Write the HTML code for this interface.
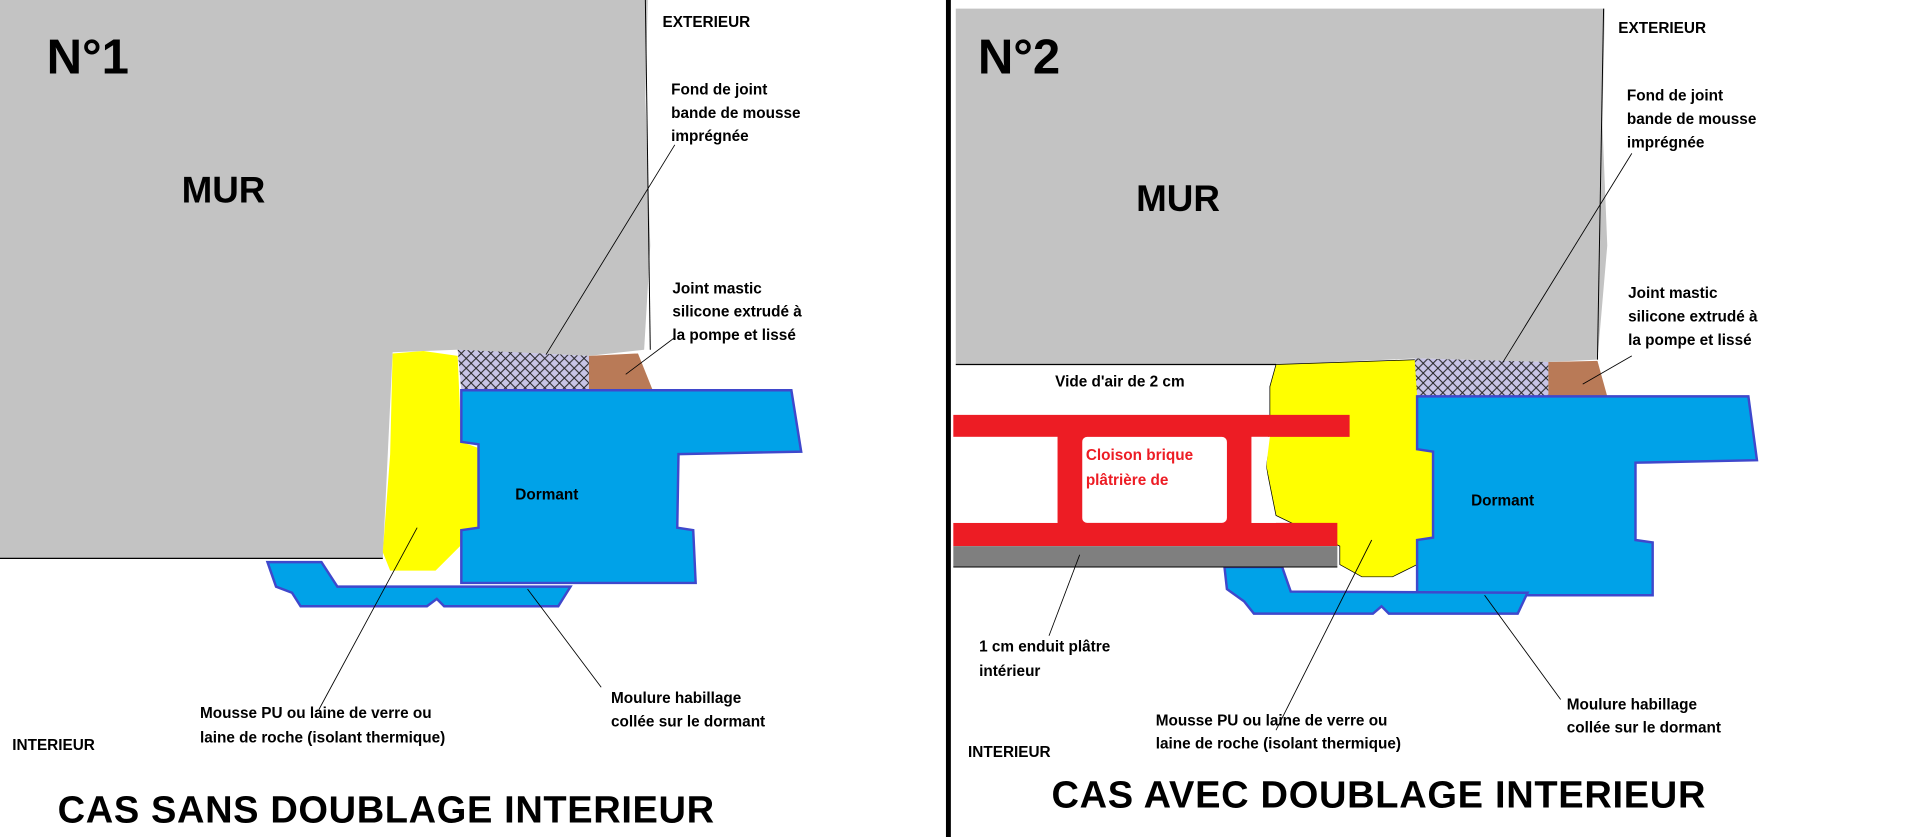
<!DOCTYPE html>
<html><head><meta charset="utf-8"><style>
html,body{margin:0;padding:0;background:#fff;width:1914px;height:837px;overflow:hidden}
svg{display:block}
text{font-family:"Liberation Sans",sans-serif;font-weight:bold;fill:#000}
.s{font-size:12.5px}
</style></head><body>
<svg width="1914" height="837" viewBox="0 0 1560 682" preserveAspectRatio="none">
<defs>
<pattern id="h" width="8" height="8" patternUnits="userSpaceOnUse">
<rect width="8" height="8" fill="#c8c4e6"/>
<path d="M0 0L8 8M8 0L0 8" stroke="#222" stroke-width="0.8"/>
</pattern>
</defs>
<rect width="1560" height="682" fill="#fff"/>
<!-- LEFT -->
<polygon points="0,0 528,0 526,80 530,200 525,285 480,290 372,285 320,287 312,455 0,455" fill="#c3c3c3"/>
<line x1="0" y1="455" x2="312" y2="455" stroke="#000" stroke-width="1"/>
<line x1="526" y1="0" x2="530" y2="285" stroke="#000" stroke-width="0.8"/>
<polygon points="320,288 345,286 373,290 376,360 390,365 390,430 376,432 375,445 355,465 318,465 312,450 318,370" fill="#ffff00"/>
<polygon points="373,285 420,287 480,290 480,318 376,318" fill="url(#h)"/>
<polygon points="480,290 520,288 532,318 480,318" fill="#b97a57"/>
<polygon points="376,318 645,318 653,368 553,370 552,430 565,432 567,475 376,475 376,432 390,430 390,362 376,360" fill="#00a2e8" stroke="#3f48cc" stroke-width="2"/>
<polygon points="218,458 262,458 275,478 465,478 455,494 362,494 356,488 348,494 245,494 238,483 225,478" fill="#00a2e8" stroke="#3f48cc" stroke-width="2"/>
<g stroke="#000" stroke-width="0.7" fill="none">
<line x1="550" y1="118" x2="445" y2="289"/>
<line x1="550" y1="275" x2="510" y2="305"/>
<line x1="260" y1="578" x2="340" y2="430"/>
<line x1="490" y1="560" x2="430" y2="480"/>
</g>
<text x="38" y="60" font-size="40">N°1</text>
<text x="148" y="165" font-size="30">MUR</text>
<text x="540" y="22" class="s">EXTERIEUR</text>
<text x="547" y="77" class="s">Fond de joint</text>
<text x="547" y="96" class="s">bande de mousse</text>
<text x="547" y="115" class="s">imprégnée</text>
<text x="548" y="239" class="s">Joint mastic</text>
<text x="548" y="258" class="s">silicone extrudé à</text>
<text x="548" y="277" class="s">la pompe et lissé</text>
<text x="420" y="407" class="s">Dormant</text>
<text x="163" y="585" class="s">Mousse PU ou laine de verre ou</text>
<text x="163" y="605" class="s">laine de roche (isolant thermique)</text>
<text x="498" y="573" class="s">Moulure habillage</text>
<text x="498" y="592" class="s">collée sur le dormant</text>
<text x="10" y="611" class="s">INTERIEUR</text>
<text x="47" y="670" font-size="31" textLength="535">CAS SANS DOUBLAGE INTERIEUR</text>
<!-- divider -->
<rect x="771" y="0" width="4" height="682" fill="#000"/>
<!-- RIGHT -->
<polygon points="779,7 1308,7 1306,100 1310,200 1302,293 1262,295 1155,292 1040,297 779,297" fill="#c3c3c3"/>
<line x1="779" y1="297" x2="1040" y2="297" stroke="#000" stroke-width="1"/>
<line x1="1307" y1="7" x2="1302" y2="293" stroke="#000" stroke-width="0.8"/>
<polygon points="1040,297 1100,295 1155,293 1158,300 1170,367 1170,438 1155,460 1135,470 1110,470 1092,460 1092,445 1040,420 1032,380 1035,340 1035,315" fill="#ffff00" stroke="#000" stroke-width="0.6"/>
<polygon points="1153,292 1262,295 1262,323 1155,323" fill="url(#h)"/>
<polygon points="1262,295 1302,294 1310,323 1262,323" fill="#b97a57"/>
<polygon points="1155,323 1425,323 1432,375 1333,377 1333,440 1347,442 1347,485 1155,485 1155,440 1168,438 1168,368 1155,366" fill="#00a2e8" stroke="#3f48cc" stroke-width="2"/>
<polygon points="998,462 1045,462 1052,482 1245,483 1237,500 1132,500 1126,494 1119,500 1022,500 1014,490 1000,480" fill="#00a2e8" stroke="#3f48cc" stroke-width="2"/>
<!-- brick -->
<path d="M777,338 H1100 V356 H1020 V426 H1090 V445 H777 V426 H862 V356 H777 Z" fill="#ed1c24"/>
<rect x="882" y="356" width="118" height="70" fill="#fff" rx="4"/>
<rect x="777" y="356" width="85" height="70" fill="#fff"/>
<polygon points="1020,356 1035,356 1032,380 1038,420 1040,426 1020,426" fill="#fff"/>
<rect x="862" y="356" width="20" height="70" fill="#ed1c24"/>
<rect x="777" y="445" width="313" height="17" fill="#7f7f7f"/>
<line x1="777" y1="462" x2="1090" y2="462" stroke="#000" stroke-width="0.8"/>
<g stroke="#000" stroke-width="0.7" fill="none">
<line x1="1330" y1="125" x2="1225" y2="295"/>
<line x1="1330" y1="290" x2="1290" y2="313"/>
<line x1="1040" y1="595" x2="1118" y2="440"/>
<line x1="1272" y1="570" x2="1210" y2="485"/>
<line x1="855" y1="518" x2="880" y2="452"/>
</g>
<text x="797" y="60" font-size="40">N°2</text>
<text x="926" y="172" font-size="30">MUR</text>
<text x="1319" y="27" class="s">EXTERIEUR</text>
<text x="1326" y="82" class="s">Fond de joint</text>
<text x="1326" y="101" class="s">bande de mousse</text>
<text x="1326" y="120" class="s">imprégnée</text>
<text x="1327" y="243" class="s">Joint mastic</text>
<text x="1327" y="262" class="s">silicone extrudé à</text>
<text x="1327" y="281" class="s">la pompe et lissé</text>
<text x="860" y="315" class="s">Vide d'air de 2 cm</text>
<text x="885" y="375" class="s" style="fill:#ed1c24">Cloison brique</text>
<text x="885" y="395" class="s" style="fill:#ed1c24">plâtrière de</text>
<text x="1199" y="412" class="s">Dormant</text>
<text x="798" y="531" class="s">1 cm enduit plâtre</text>
<text x="798" y="551" class="s">intérieur</text>
<text x="942" y="591" class="s">Mousse PU ou laine de verre ou</text>
<text x="942" y="610" class="s">laine de roche (isolant thermique)</text>
<text x="1277" y="578" class="s">Moulure habillage</text>
<text x="1277" y="597" class="s">collée sur le dormant</text>
<text x="789" y="617" class="s">INTERIEUR</text>
<text x="857" y="658" font-size="31" textLength="533">CAS AVEC DOUBLAGE INTERIEUR</text>
</svg>
</body></html>
